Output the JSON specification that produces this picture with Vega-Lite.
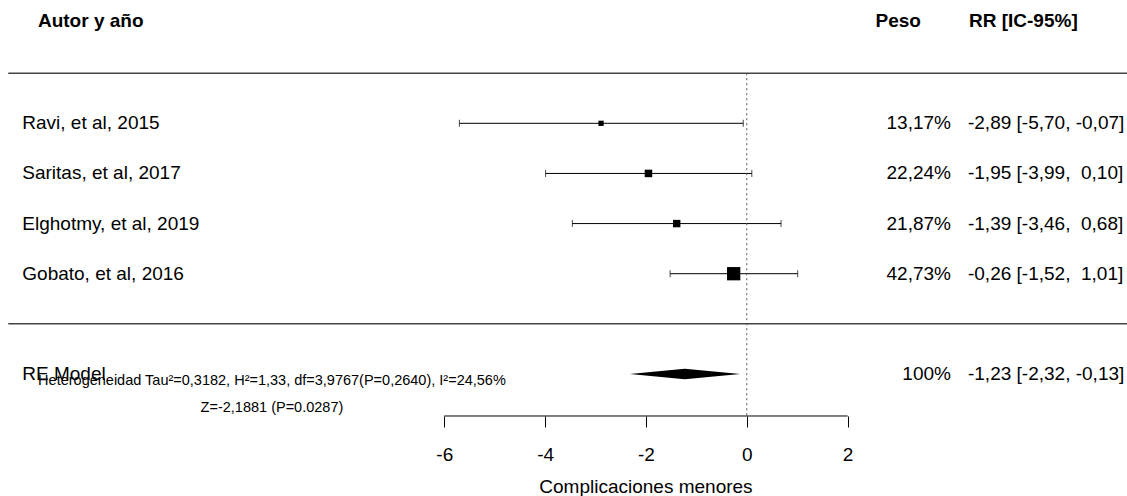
{
  "$schema": "https://vega.github.io/schema/vega-lite/v6.json",
  "width": 1127,
  "height": 496,
  "autosize": {"type": "none"},
  "padding": 0,
  "background": "white",
  "config": {"view": {"stroke": null}, "font": "Liberation Sans"},
  "datasets": {
    "studies": [
      {"study": "Ravi, et al, 2015", "row": 4, "est": -2.89, "lo": -5.70, "hi": -0.07, "w": 13.17, "wlab": "13,17%", "ci": "-2,89 [-5,70, -0,07]"},
      {"study": "Saritas, et al, 2017", "row": 3, "est": -1.95, "lo": -3.99, "hi": 0.10, "w": 22.24, "wlab": "22,24%", "ci": "-1,95 [-3,99, \u00a00,10]"},
      {"study": "Elghotmy, et al, 2019", "row": 2, "est": -1.39, "lo": -3.46, "hi": 0.68, "w": 21.87, "wlab": "21,87%", "ci": "-1,39 [-3,46, \u00a00,68]"},
      {"study": "Gobato, et al, 2016", "row": 1, "est": -0.26, "lo": -1.52, "hi": 1.01, "w": 42.73, "wlab": "42,73%", "ci": "-0,26 [-1,52, \u00a01,01]"},
      {"study": "RE Model", "row": -1, "est": -1.23, "lo": -2.32, "hi": -0.13, "w": 100, "wlab": "100%", "ci": "-1,23 [-2,32, -0,13]"}
    ],
    "diamond": [
      {"x": -2.32, "ylo": -1, "yhi": -1},
      {"x": -1.23, "ylo": -1.106, "yhi": -0.894},
      {"x": -0.13, "ylo": -1, "yhi": -1}
    ],
    "separators": [{"row": 5}, {"row": 0}]
  },
  "layer": [
    {
      "data": {"name": "studies"},
      "transform": [{"filter": "datum.row > 0"}],
      "mark": {"type": "rule", "color": "black", "strokeWidth": 1},
      "encoding": {
        "x": {"field": "lo", "type": "quantitative", "title": null,
          "scale": {"domain": [-14.811, 7.541], "nice": false, "zero": false},
          "axis": {
            "orient": "bottom", "offset": -80, "values": [-6, -4, -2, 0, 2], "domain": false, "grid": false,
            "ticks": true, "tickSize": 11, "tickColor": "black", "tickWidth": 1,
            "labelFontSize": 19, "labelColor": "black", "labelFont": "Liberation Sans", "labelPadding": 18,
            "labelExpr": "datum.value < 0 ? '-' + abs(datum.value) : '' + datum.value", "labelFlush": false, "labelOverlap": false, "title": null
          }},
        "x2": {"field": "hi"},
        "y": {"field": "row", "type": "quantitative", "scale": {"domain": [-3.4345, 6.4598], "nice": false, "zero": false}, "axis": null}
      }
    },
    {
      "data": {"name": "separators"},
      "mark": {"type": "rule", "color": "#444", "strokeWidth": 1.5},
      "encoding": {
        "x": {"datum": -14.647, "type": "quantitative"},
        "x2": {"datum": 7.541},
        "y": {"field": "row", "type": "quantitative", "axis": null}
      }
    },
    {
      "data": {"values": [{}]},
      "mark": {"type": "rule", "color": "#555", "strokeWidth": 1, "strokeDash": [2, 3]},
      "encoding": {
        "x": {"datum": 0, "type": "quantitative"},
        "y": {"datum": 5, "type": "quantitative", "axis": null},
        "y2": {"datum": -1.8386}
      }
    },
    {
      "data": {"name": "studies"},
      "transform": [{"filter": "datum.row > 0"}],
      "mark": {"type": "tick", "orient": "vertical", "color": "black", "size": 7, "thickness": 1},
      "encoding": {
        "x": {"field": "lo", "type": "quantitative", "title": null},
        "y": {"field": "row", "type": "quantitative", "axis": null}
      }
    },
    {
      "data": {"name": "studies"},
      "transform": [{"filter": "datum.row > 0"}],
      "mark": {"type": "tick", "orient": "vertical", "color": "black", "size": 7, "thickness": 1},
      "encoding": {
        "x": {"field": "hi", "type": "quantitative", "title": null},
        "y": {"field": "row", "type": "quantitative", "axis": null}
      }
    },
    {
      "data": {"name": "studies"},
      "transform": [{"filter": "datum.row > 0"}],
      "mark": {"type": "square", "color": "black", "opacity": 1, "filled": true},
      "encoding": {
        "x": {"field": "est", "type": "quantitative", "title": null},
        "y": {"field": "row", "type": "quantitative", "axis": null},
        "size": {"field": "w", "type": "quantitative", "scale": {"type": "pow", "exponent": 2, "domain": [0, 42.73], "range": [12, 177]}, "legend": null}
      }
    },
    {
      "data": {"name": "diamond"},
      "mark": {"type": "area", "color": "black", "orient": "vertical", "opacity": 1},
      "encoding": {
        "x": {"field": "x", "type": "quantitative", "title": null},
        "y": {"field": "ylo", "type": "quantitative", "axis": null},
        "y2": {"field": "yhi"}
      }
    },
    {
      "data": {"values": [{}]},
      "mark": {"type": "rule", "color": "black", "strokeWidth": 1},
      "encoding": {
        "x": {"datum": -6, "type": "quantitative"},
        "x2": {"datum": 2},
        "y": {"datum": -1.8386, "type": "quantitative", "axis": null}
      }
    },
    {
      "data": {"name": "studies"},
      "mark": {"type": "text", "align": "left", "baseline": "middle", "fontSize": 19, "color": "black"},
      "encoding": {
        "x": {"datum": -14.369, "type": "quantitative"},
        "y": {"field": "row", "type": "quantitative", "axis": null},
        "text": {"field": "study"}
      }
    },
    {
      "data": {"name": "studies"},
      "mark": {"type": "text", "align": "right", "baseline": "middle", "fontSize": 19, "color": "black"},
      "encoding": {
        "x": {"datum": 4.05, "type": "quantitative"},
        "y": {"field": "row", "type": "quantitative", "axis": null},
        "text": {"field": "wlab"}
      }
    },
    {
      "data": {"name": "studies"},
      "mark": {"type": "text", "align": "left", "baseline": "middle", "fontSize": 19, "color": "black"},
      "encoding": {
        "x": {"datum": 4.387, "type": "quantitative"},
        "y": {"field": "row", "type": "quantitative", "axis": null},
        "text": {"field": "ci"}
      }
    },
    {
      "data": {"values": [{"label": "Autor y año"}]},
      "mark": {"type": "text", "align": "left", "baseline": "middle", "fontSize": 19, "fontWeight": "bold", "color": "black"},
      "encoding": {
        "x": {"datum": -14.058, "type": "quantitative"},
        "y": {"datum": 6.05, "type": "quantitative", "axis": null},
        "text": {"field": "label"}
      }
    },
    {
      "data": {"values": [{"label": "Peso"}]},
      "mark": {"type": "text", "align": "right", "baseline": "middle", "fontSize": 19, "fontWeight": "bold", "color": "black"},
      "encoding": {
        "x": {"datum": 3.455, "type": "quantitative"},
        "y": {"datum": 6.05, "type": "quantitative", "axis": null},
        "text": {"field": "label"}
      }
    },
    {
      "data": {"values": [{"label": "RR [IC-95%]"}]},
      "mark": {"type": "text", "align": "left", "baseline": "middle", "fontSize": 19, "fontWeight": "bold", "color": "black"},
      "encoding": {
        "x": {"datum": 4.407, "type": "quantitative"},
        "y": {"datum": 6.05, "type": "quantitative", "axis": null},
        "text": {"field": "label"}
      }
    },
    {
      "data": {"values": [{"label": "Heterogeneidad Tau²=0,3182, H²=1,33, df=3,9767(P=0,2640), I²=24,56%"}]},
      "mark": {"type": "text", "align": "center", "baseline": "middle", "fontSize": 14.5, "color": "black"},
      "encoding": {
        "x": {"datum": -9.417, "type": "quantitative"},
        "y": {"datum": -1.15, "type": "quantitative", "axis": null},
        "text": {"field": "label"}
      }
    },
    {
      "data": {"values": [{"label": "Z=-2,1881 (P=0.0287)"}]},
      "mark": {"type": "text", "align": "center", "baseline": "middle", "fontSize": 14.5, "color": "black"},
      "encoding": {
        "x": {"datum": -9.417, "type": "quantitative"},
        "y": {"datum": -1.679, "type": "quantitative", "axis": null},
        "text": {"field": "label"}
      }
    },
    {
      "data": {"values": [{"label": "Complicaciones menores"}]},
      "mark": {"type": "text", "align": "center", "baseline": "middle", "fontSize": 19, "color": "black"},
      "encoding": {
        "x": {"datum": -2, "type": "quantitative"},
        "y": {"datum": -3.249, "type": "quantitative", "axis": null},
        "text": {"field": "label"}
      }
    }
  ]
}
